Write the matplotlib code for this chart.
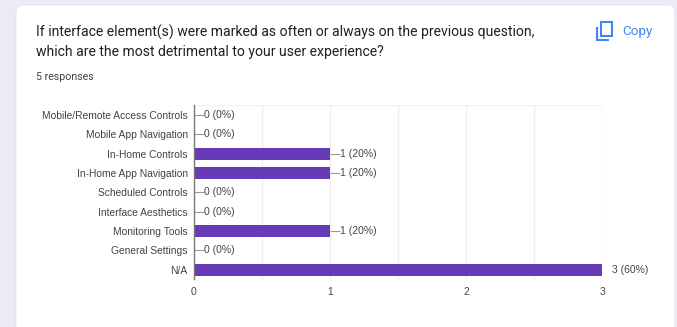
import matplotlib
matplotlib.use("Agg")
import matplotlib.pyplot as plt
from matplotlib.patches import FancyBboxPatch, Rectangle

QUESTION = [
    "If interface element(s) were marked as often or always on the previous question,",
    "which are the most detrimental to your user experience?",
]
RESPONSES = "5 responses"
CATEGORIES = [
    "Mobile/Remote Access Controls",
    "Mobile App Navigation",
    "In-Home Controls",
    "In-Home App Navigation",
    "Scheduled Controls",
    "Interface Aesthetics",
    "Monitoring Tools",
    "General Settings",
    "N/A",
]
COUNTS = [0, 0, 1, 1, 0, 0, 1, 0, 3]
PERCENTS = [0, 0, 20, 20, 0, 0, 20, 0, 60]
X_TICKS = [0, 1, 2, 3]
X_GRID = [0.5, 1, 1.5, 2, 2.5, 3]

W, H = 677, 327
PURPLE = "#673ab7"
BLUE = "#4285f4"
TEXT = "#444444"

fig = plt.figure(figsize=(W / 100, H / 100), dpi=100, facecolor="#ede9f6")

# page layer in pixel coordinates, y pointing down
page = fig.add_axes([0, 0, 1, 1])
page.set_xlim(0, W)
page.set_ylim(H, 0)
page.axis("off")
page.add_patch(FancyBboxPatch((16, 5), 659, 340,
                              boxstyle="round,pad=0,rounding_size=7",
                              fc="white", ec="#e4e1ea", lw=0.6))

for y, line in zip([32, 52], QUESTION):
    page.text(36, y, line, fontsize=10.09, family="Roboto", color="#202124",
              va="center", ha="left")
page.text(36, 77, RESPONSES, fontsize=7.7, family="Roboto", color="#3c4043",
          va="center", ha="left")

# copy button
page.add_patch(Rectangle((600.5, 22), 11.5, 14, fc="white", ec=BLUE, lw=1.5))
page.plot([596.5, 596.5, 609], [27, 39.5, 39.5], color=BLUE, lw=1.5,
          solid_capstyle="butt", solid_joinstyle="miter")
page.text(622, 31, "Copy", fontsize=9.7, family="Roboto", color=BLUE,
          va="center", ha="left")

# chart
left, right, top, bottom = 193.5, 602.3, 105.3, 279.3
ax = fig.add_axes([left / W, 1 - bottom / H, (right - left) / W, (bottom - top) / H])
ax.patch.set_alpha(0)
ax.set_xlim(0, 3)
ax.set_ylim(len(CATEGORIES) - 0.5, -0.5)

for spine in ["top", "right", "bottom"]:
    ax.spines[spine].set_visible(False)
ax.spines["left"].set_color("#777777")
ax.spines["left"].set_linewidth(1.0)

ax.vlines(X_GRID, -0.5, len(CATEGORIES) - 0.5, color="#eeeeee", lw=1, zorder=0)
ax.hlines([-0.5, len(CATEGORIES) - 0.5], 0, 3, color="#f2f2f2", lw=1, zorder=0)

positions = list(range(len(CATEGORIES)))
ax.barh(positions, COUNTS, height=0.62, color=PURPLE, zorder=2)

for pos, count, pct in zip(positions, COUNTS, PERCENTS):
    label = f"{count} ({pct}%)"
    if count < max(COUNTS):
        # short leader line between the bar end and its label
        ax.plot([count, count + 0.075], [pos, pos], color="#999999", lw=0.8,
                zorder=1, solid_capstyle="butt")
        offset = 7.6
    else:
        offset = 7.2
    ax.annotate(label, (count, pos), xytext=(offset, 0), textcoords="offset points",
                fontsize=7.5, family="Liberation Sans", color=TEXT,
                va="center", ha="left", annotation_clip=False)

ax.set_yticks(positions)
ax.set_yticklabels(CATEGORIES, fontsize=7.4, family="Liberation Sans", color=TEXT)
ax.set_xticks(X_TICKS)
ax.set_xticklabels([str(t) for t in X_TICKS], fontsize=7.4,
                   family="Liberation Sans", color=TEXT)
ax.tick_params(axis="y", length=0, pad=4.2)
ax.tick_params(axis="x", length=0, pad=5.8)

fig.savefig("out.png", dpi=100, facecolor=fig.get_facecolor())
